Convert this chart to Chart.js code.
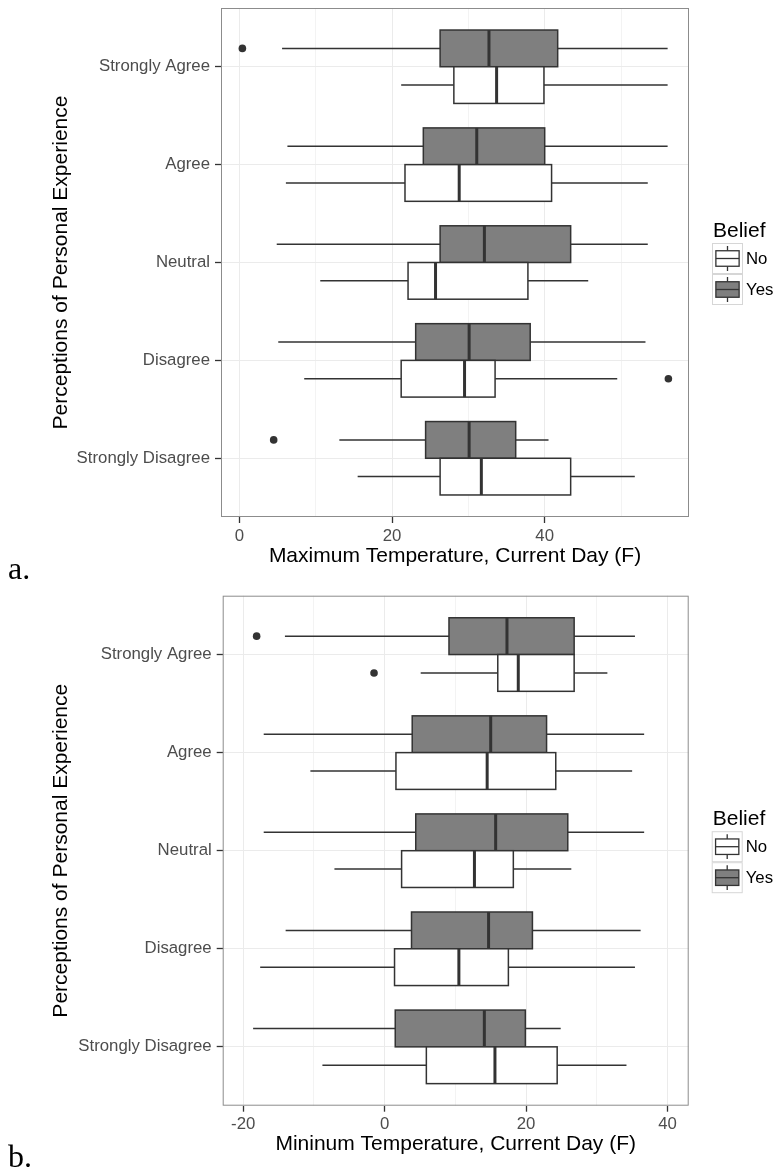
<!DOCTYPE html>
<html>
<head>
<meta charset="utf-8">
<script src="https://cdn.jsdelivr.net/npm/chart.js@4.4.0/dist/chart.umd.min.js"></script>
<style>
  body { margin: 0; background: #fff; width: 775px; height: 1171px; position: relative; overflow: hidden; }
  .panel { position: absolute; left: 0; width: 775px; }
  #panelA { top: 0; height: 585px; }
  #panelB { top: 585px; height: 586px; }
  .tag { position: absolute; left: 8px; font-family: "Liberation Serif", "Times New Roman", serif; font-size: 32px; line-height: 32px; color: #000; }
</style>
</head>
<body>
<div class="panel" id="panelA"><canvas id="chartA" width="775" height="585"></canvas></div>
<div class="panel" id="panelB"><canvas id="chartB" width="775" height="586"></canvas></div>
<div class="tag" style="top:552px">a.</div>
<div class="tag" style="top:1140px">b.</div>

<script>
const categories = ["Strongly Agree", "Agree", "Neutral", "Disagree", "Strongly Disagree"];
const beliefLevels = ["No", "Yes"];

// [lower whisker, Q1, median, Q3, upper whisker] per category
const maxTempYes = [
  [5.6, 26.3, 32.7, 41.7, 56.1],
  [6.3, 24.1, 31.1, 40.0, 56.1],
  [4.9, 26.3, 32.1, 43.4, 53.5],
  [5.1, 23.1, 30.1, 38.1, 53.2],
  [13.1, 24.4, 30.1, 36.2, 40.5],
];
const maxTempNo = [
  [21.2, 28.1, 33.7, 39.9, 56.1],
  [6.1, 21.7, 28.8, 40.9, 53.5],
  [10.6, 22.1, 25.7, 37.8, 45.7],
  [8.5, 21.2, 29.5, 33.5, 49.5],
  [15.5, 26.3, 31.7, 43.4, 51.8],
];
const maxTempYesOutliers = [["Strongly Agree", 0.4], ["Strongly Disagree", 4.5]];
const maxTempNoOutliers = [["Disagree", 56.2]];
const maxTempTicks = [0, 20, 40];

const minTempYes = [
  [-14.1, 9.1, 17.3, 26.8, 35.4],
  [-17.1, 3.9, 15.0, 22.9, 36.7],
  [-17.1, 4.4, 15.7, 25.9, 36.7],
  [-14.0, 3.8, 14.7, 20.9, 36.2],
  [-18.6, 1.5, 14.1, 19.9, 24.9],
];
const minTempNo = [
  [5.1, 16.0, 18.9, 26.8, 31.5],
  [-10.5, 1.6, 14.5, 24.2, 35.0],
  [-7.1, 2.4, 12.7, 18.2, 26.4],
  [-17.6, 1.4, 10.5, 17.5, 35.4],
  [-8.8, 5.9, 15.6, 24.4, 34.2],
];
const minTempYesOutliers = [["Strongly Agree", -18.1]];
const minTempNoOutliers = [["Strongly Agree", -1.5]];
const minTempTicks = [-20, 0, 20, 40];

const beliefFill = { No: "#ffffff", Yes: "#7f7f7f" };
// dodge: Yes sits above the category line, No below
const dodge = { Yes: [-0.375, 0], No: [0, 0.375] };
const lineColor = "#333333";
const fontFamily = "'Liberation Sans', Arial, sans-serif";

function drawBox(ctx, x, yTop, yBot, stats, fill) {
  const [lo, q1, med, q3, hi] = stats.map((v) => x.getPixelForValue(v));
  const yMid = (yTop + yBot) / 2;
  ctx.strokeStyle = lineColor;
  ctx.lineWidth = 1.5;
  ctx.beginPath();
  ctx.moveTo(lo, yMid);
  ctx.lineTo(q1, yMid);
  ctx.moveTo(q3, yMid);
  ctx.lineTo(hi, yMid);
  ctx.stroke();
  ctx.fillStyle = fill;
  ctx.fillRect(q1, yTop, q3 - q1, yBot - yTop);
  ctx.strokeRect(q1, yTop, q3 - q1, yBot - yTop);
  ctx.lineWidth = 3;
  ctx.beginPath();
  ctx.moveTo(med, yTop);
  ctx.lineTo(med, yBot);
  ctx.stroke();
}

const boxplotPlugin = {
  id: "boxplots",
  beforeDatasetsDraw(chart, args, opts) {
    const { ctx, chartArea, scales } = chart;
    ctx.save();
    ctx.beginPath();
    ctx.rect(chartArea.left, chartArea.top, chartArea.width, chartArea.height);
    ctx.clip();
    opts.groups.forEach((g) => {
      g.stats.forEach((s, i) => {
        const yTop = scales.y.getPixelForValue(i + 1 + dodge[g.level][0]);
        const yBot = scales.y.getPixelForValue(i + 1 + dodge[g.level][1]);
        drawBox(ctx, scales.x, yTop, yBot, s, beliefFill[g.level]);
      });
    });
    ctx.restore();
  },
  afterDatasetsDraw(chart) {
    // panel border on top, like ggplot
    const { ctx, chartArea } = chart;
    ctx.save();
    ctx.strokeStyle = "#8c8c8c";
    ctx.lineWidth = 1;
    ctx.strokeRect(chartArea.left + 0.5, chartArea.top + 0.5, chartArea.width - 1, chartArea.height - 1);
    ctx.restore();
  },
};

const beliefLegend = {
  id: "beliefLegend",
  afterDraw(chart) {
    const { ctx, chartArea } = chart;
    const key = 31;
    const left = chartArea.right + 23;
    const keysTop = (chartArea.top + chartArea.bottom) / 2 - 19.5;
    ctx.save();
    ctx.fillStyle = "#000";
    ctx.font = "21px " + fontFamily;
    ctx.textBaseline = "alphabetic";
    ctx.fillText("Belief", left + 1, keysTop - 6);
    beliefLevels.forEach((level, i) => {
      const top = keysTop + i * key;
      ctx.fillStyle = "#fff";
      ctx.fillRect(left, top, key, key);
      ctx.strokeStyle = "#d6d6d6";
      ctx.lineWidth = 1;
      ctx.strokeRect(left + 0.5, top + 0.5, key - 1, key - 1);
      const cx = left + key / 2;
      ctx.strokeStyle = lineColor;
      ctx.lineWidth = 1.3;
      ctx.beginPath();
      ctx.moveTo(cx, top + key * 0.1);
      ctx.lineTo(cx, top + key * 0.25);
      ctx.moveTo(cx, top + key * 0.75);
      ctx.lineTo(cx, top + key * 0.9);
      ctx.stroke();
      ctx.fillStyle = beliefFill[level];
      ctx.fillRect(left + key * 0.125, top + key * 0.25, key * 0.75, key * 0.5);
      ctx.strokeRect(left + key * 0.125, top + key * 0.25, key * 0.75, key * 0.5);
      ctx.beginPath();
      ctx.moveTo(left + key * 0.125, top + key * 0.5);
      ctx.lineTo(left + key * 0.875, top + key * 0.5);
      ctx.stroke();
      ctx.fillStyle = "#000";
      ctx.font = "16.8px " + fontFamily;
      ctx.textBaseline = "middle";
      ctx.fillText(level, left + key + 3, top + key / 2 + 1);
    });
    ctx.restore();
  },
};

function gridTicks(major, min, max) {
  const step = major[1] - major[0];
  const out = [];
  for (let v = major[0] - step / 2; v <= major[major.length - 1] + step / 2; v += step / 2) {
    if (v >= min && v <= max) out.push({ value: v, minor: !major.includes(v) });
  }
  return out;
}

function outlierPoints(list, level) {
  return list.map(([cat, value]) => ({
    x: value,
    y: categories.indexOf(cat) + 1 + (dodge[level][0] + dodge[level][1]) / 2,
  }));
}

function noScalePadding(scale) {
  scale.paddingTop = 0;
  scale.paddingBottom = 0;
  scale.paddingLeft = 0;
  scale.paddingRight = 0;
}

function makePanel(canvasId, p) {
  const tickFont = { family: fontFamily, size: 16.8 };
  const titleFont = { family: fontFamily, size: 21 };
  return new Chart(document.getElementById(canvasId), {
    type: "scatter",
    data: {
      datasets: [
        { label: "Yes outliers", data: outlierPoints(p.yesOutliers, "Yes") },
        { label: "No outliers", data: outlierPoints(p.noOutliers, "No") },
      ],
    },
    options: {
      responsive: false,
      animation: false,
      events: [],
      layout: { padding: { top: p.top, right: p.right, left: 0, bottom: 0 } },
      elements: {
        point: { radius: 3.8, backgroundColor: lineColor, borderWidth: 0 },
      },
      scales: {
        x: {
          type: "linear",
          min: p.xMin,
          max: p.xMax,
          afterBuildTicks: (scale) => {
            scale.ticks = gridTicks(p.ticks, p.xMin, p.xMax);
          },
          afterFit: (scale) => {
            scale.height = p.xAxisHeight;
            noScalePadding(scale);
          },
          grid: {
            color: (c) => (c.tick && c.tick.minor ? "#f3f3f3" : "#ebebeb"),
            tickColor: (c) => (c.tick && c.tick.minor ? "rgba(0,0,0,0)" : lineColor),
            tickLength: 6,
            tickWidth: 1.3,
          },
          border: { display: false },
          ticks: {
            autoSkip: false,
            maxRotation: 0,
            padding: 3,
            color: "#4d4d4d",
            font: tickFont,
            callback: (value, index, ticks) => (ticks[index].minor ? "" : String(value)),
          },
          title: {
            display: true,
            text: p.xTitle,
            color: "#000",
            font: titleFont,
            padding: { top: 0, bottom: p.xTitlePad },
          },
        },
        y: {
          type: "linear",
          min: 0.4,
          max: 5.6,
          reverse: true,
          afterBuildTicks: (scale) => {
            scale.ticks = categories.map((c, i) => ({ value: i + 1 }));
          },
          afterFit: (scale) => {
            scale.width = p.yAxisWidth;
            noScalePadding(scale);
          },
          grid: { color: "#ebebeb", tickColor: lineColor, tickLength: 6, tickWidth: 1.3 },
          border: { display: false },
          ticks: {
            autoSkip: false,
            padding: 5,
            color: "#4d4d4d",
            font: tickFont,
            callback: (value) => categories[Math.round(value) - 1],
          },
          title: {
            display: true,
            text: "Perceptions of Personal Experience",
            color: "#000",
            font: titleFont,
            padding: { top: 49, bottom: 0 },
          },
        },
      },
      plugins: {
        legend: { display: false },
        tooltip: { enabled: false },
        boxplots: {
          groups: [
            { level: "Yes", stats: p.yes },
            { level: "No", stats: p.no },
          ],
        },
      },
    },
    plugins: [boxplotPlugin, beliefLegend],
  });
}

makePanel("chartA", {
  yes: maxTempYes,
  no: maxTempNo,
  yesOutliers: maxTempYesOutliers,
  noOutliers: maxTempNoOutliers,
  ticks: maxTempTicks,
  xMin: -2.4,
  xMax: 58.9,
  xTitle: "Maximum Temperature, Current Day (F)",
  top: 8,
  right: 86,
  xAxisHeight: 68,
  xTitlePad: 16.4,
  yAxisWidth: 221,
});

makePanel("chartB", {
  yes: minTempYes,
  no: minTempNo,
  yesOutliers: minTempYesOutliers,
  noOutliers: minTempNoOutliers,
  ticks: minTempTicks,
  xMin: -22.9,
  xMax: 43.0,
  xTitle: "Mininum Temperature, Current Day (F)",
  top: 10.7,
  right: 86.3,
  xAxisHeight: 65.3,
  xTitlePad: 13.7,
  yAxisWidth: 222.7,
});
</script>
</body>
</html>
